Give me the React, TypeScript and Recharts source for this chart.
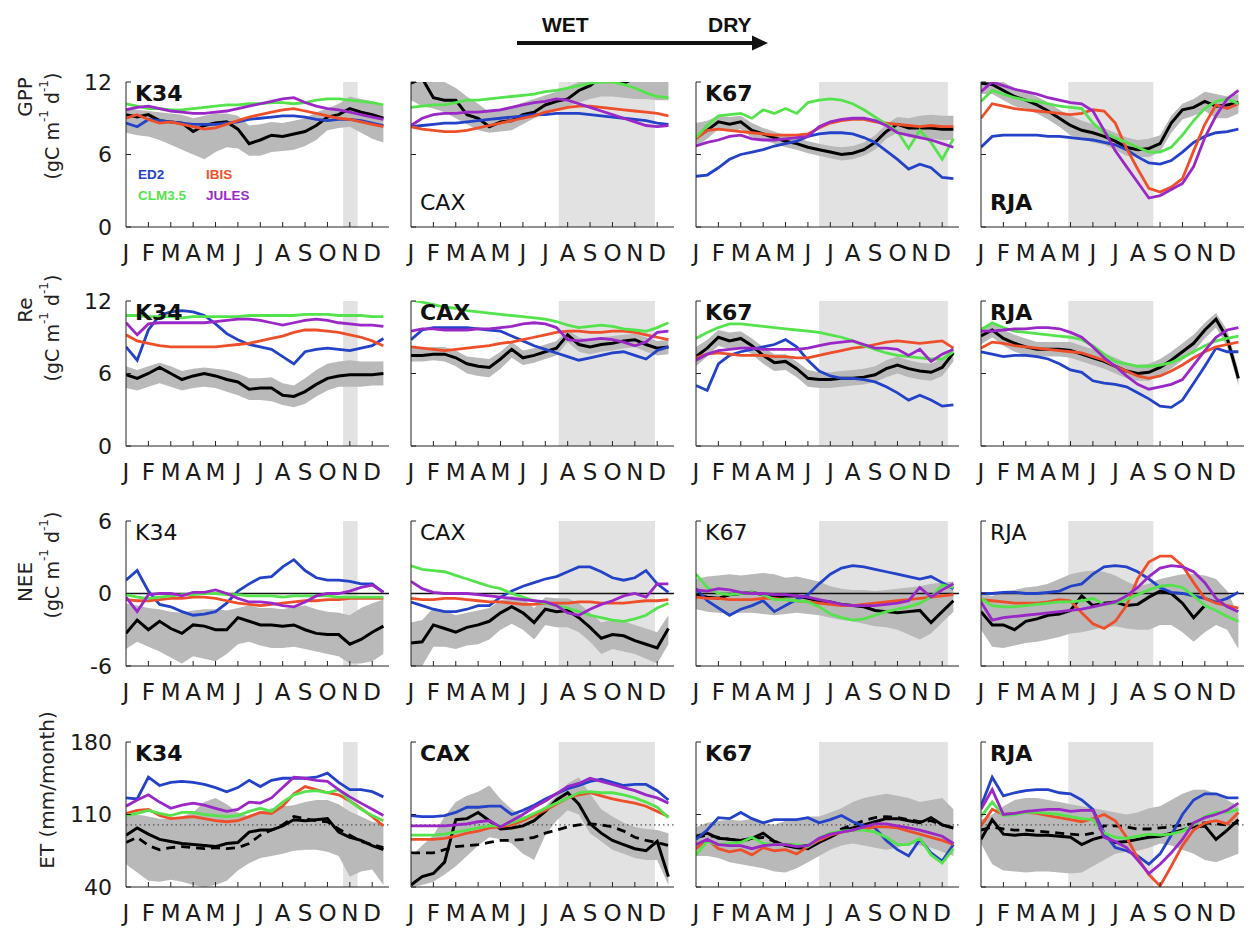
import React from 'react';
import { ComposedChart, Line, Area, XAxis, YAxis, ReferenceArea, ReferenceLine } from 'recharts';

// ---------- axis / category data ----------
const monthPos = [0, 0.5, 1, 1.5, 2, 2.5, 3, 3.5, 4, 4.5, 5, 5.5, 6, 6.5, 7, 7.5, 8, 8.5, 9, 9.5, 10, 10.5, 11, 11.5];
const monthTicks = [0, 1, 2, 3, 4, 5, 6, 7, 8, 9, 10, 11];
const monthLetters = ['J', 'F', 'M', 'A', 'M', 'J', 'J', 'A', 'S', 'O', 'N', 'D'];
const siteNames = ['K34', 'CAX', 'K67', 'RJA'];
const dryStart = [9.7, 6.6, 5.5, 3.9];
const dryEnd = [10.35, 10.9, 11.25, 7.7];
const modelNames = ['ED2', 'IBIS', 'CLM3.5', 'JULES'];

type Series = {
  obs: (number | null)[]; obs2?: number[]; lo: number[]; hi: number[];
  ed2: number[]; ibis: number[]; clm: number[]; jules: number[];
};

// ---------- GPP ----------
const gppK34: Series = {
  obs: [9.3, 9.1, 9.3, 8.8, 8.7, 8.6, 7.9, 8.4, 8.6, 8.7, 8.1, 6.9, 7.2, 7.6, 7.5, 7.7, 7.9, 8.4, 9.1, 9.3, 9.8, 9.5, 9.3, 9.0],
  hi: [9.8, 9.7, 9.6, 9.5, 9.4, 9.3, 9.0, 9.2, 9.4, 9.4, 9.2, 8.4, 8.5, 8.7, 8.6, 8.8, 9.0, 9.5, 9.8, 10.2, 10.8, 10.6, 10.4, 10.0],
  lo: [7.8, 7.6, 7.5, 7.2, 6.8, 6.4, 6.0, 5.6, 6.2, 6.6, 6.5, 5.9, 5.9, 6.2, 6.3, 6.4, 6.7, 7.2, 8.0, 8.2, 8.3, 7.8, 7.3, 7.0],
  ed2: [8.6, 8.3, 8.9, 8.8, 8.7, 8.6, 8.5, 8.5, 8.5, 8.6, 8.7, 8.9, 9.0, 9.1, 9.2, 9.2, 9.1, 8.9, 8.8, 8.9, 8.9, 8.8, 8.6, 8.4],
  ibis: [9.0, 9.3, 8.9, 8.6, 8.7, 8.5, 8.3, 8.1, 8.2, 8.5, 8.8, 9.1, 9.3, 9.5, 9.7, 9.8, 9.6, 9.4, 9.2, 9.0, 8.9, 8.7, 8.5, 8.3],
  clm: [10.2, 10.0, 9.8, 9.8, 9.7, 9.7, 9.8, 9.9, 10.0, 10.1, 10.1, 10.2, 10.2, 10.3, 10.3, 10.2, 10.3, 10.5, 10.6, 10.6, 10.5, 10.4, 10.3, 10.1],
  jules: [9.7, 9.9, 10.0, 9.8, 9.6, 9.5, 9.4, 9.4, 9.5, 9.6, 9.8, 10.0, 10.2, 10.4, 10.6, 10.7, 10.3, 10.0, 9.8, 9.7, 9.5, 9.3, 9.1, 8.9],
};
const gppCAX: Series = {
  obs: [11.9, 12.3, 10.7, 10.5, 10.5, 9.3, 9.0, 8.3, 8.7, 8.8, 9.3, 9.5, 10.1, 10.4, 10.6, 11.3, 11.7, 12.4, 12.1, 11.9, 12.3, 12.4, 12.5, 12.5],
  hi: [12.5, 12.5, 12.3, 12.0, 11.5, 10.8, 10.2, 9.5, 9.8, 10.0, 10.3, 10.6, 10.9, 11.2, 11.6, 12.0, 12.5, 12.5, 12.5, 12.5, 12.5, 12.5, 12.5, 12.5],
  lo: [10.5, 10.0, 9.8, 9.5, 9.0, 8.5, 8.0, 7.8, 7.9, 8.0, 8.5, 9.0, 9.3, 9.7, 10.0, 10.3, 10.6, 10.8, 10.8, 10.7, 10.6, 10.6, 10.5, 10.5],
  ed2: [8.3, 8.4, 8.5, 8.6, 8.6, 8.7, 8.8, 8.9, 9.0, 9.1, 9.2, 9.3, 9.3, 9.4, 9.4, 9.4, 9.3, 9.2, 9.1, 9.0, 8.9, 8.8, 8.6, 8.5],
  ibis: [8.3, 8.1, 8.0, 7.9, 7.9, 8.0, 8.2, 8.4, 8.6, 8.8, 9.0, 9.2, 9.5, 9.7, 9.9, 10.0, 10.0, 9.9, 9.8, 9.7, 9.6, 9.5, 9.4, 9.2],
  clm: [9.9, 10.0, 10.1, 10.1, 10.3, 10.5, 10.5, 10.6, 10.7, 10.8, 10.9, 11.0, 11.2, 11.3, 11.5, 11.7, 11.9, 12.0, 12.0, 11.8, 11.5, 11.1, 10.8, 10.7],
  jules: [8.4, 9.0, 9.3, 9.4, 9.4, 9.5, 9.5, 9.6, 9.7, 9.9, 10.1, 10.3, 10.4, 10.6, 10.5, 10.2, 9.9, 9.6, 9.3, 9.0, 8.7, 8.4, 8.3, 8.4],
};
const gppK67: Series = {
  obs: [7.4, 8.0, 8.7, 8.5, 8.7, 8.0, 7.7, 7.4, 7.1, 6.9, 6.6, 6.4, 6.2, 6.0, 6.1, 6.4, 7.0, 7.9, 8.5, 8.2, 8.2, 8.2, 8.1, 8.1],
  hi: [8.6, 8.8, 9.2, 9.1, 9.2, 8.6, 8.2, 7.9, 7.6, 7.4, 7.1, 6.9, 6.7, 6.6, 6.7, 7.0, 7.6, 8.5, 9.1, 9.0, 9.2, 9.3, 9.2, 9.2],
  lo: [6.6, 7.3, 8.1, 7.9, 8.1, 7.4, 7.2, 6.9, 6.6, 6.4, 6.1, 5.9, 5.7, 5.5, 5.6, 5.9, 6.4, 7.3, 7.8, 7.4, 7.4, 7.3, 7.2, 7.2],
  ed2: [4.2, 4.3, 4.9, 5.6, 6.0, 6.2, 6.4, 6.7, 6.9, 7.1, 7.5, 7.7, 7.8, 7.8, 7.7, 7.4, 7.0, 6.3, 5.6, 4.8, 5.2, 4.9, 4.1, 4.0],
  ibis: [7.3, 8.0, 8.1, 8.0, 7.9, 7.8, 7.7, 7.6, 7.6, 7.6, 7.7, 8.2, 8.6, 8.8, 8.9, 8.9, 8.7, 8.6, 8.5, 8.4, 8.3, 8.4, 8.3, 8.3],
  clm: [7.4, 8.4, 9.2, 9.3, 9.4, 9.0, 9.7, 9.4, 9.8, 9.4, 10.3, 10.5, 10.6, 10.5, 10.2, 9.7, 9.1, 8.5, 7.9, 6.5, 8.0, 7.0, 5.6, 7.3],
  jules: [6.7, 7.0, 7.2, 7.5, 7.6, 7.3, 7.2, 7.2, 7.3, 7.4, 7.5, 8.3, 8.7, 8.9, 9.0, 9.0, 8.8, 8.4, 7.8, 7.6, 7.4, 7.2, 6.9, 6.6],
};
const gppRJA: Series = {
  obs: [11.9, 11.8, 11.3, 10.8, 10.5, 10.1, 9.6, 9.0, 8.4, 8.0, 7.8, 7.5, 7.1, 6.6, 6.4, 6.5, 6.9, 8.6, 9.7, 9.9, 10.4, 10.0, 10.1, 10.3],
  hi: [12.4, 12.2, 12.0, 11.5, 11.2, 10.8, 10.3, 9.7, 9.2, 8.8, 8.5, 8.2, 7.8, 7.4, 7.2, 7.3, 7.6, 9.2, 10.2, 10.6, 11.2, 11.0, 10.8, 11.0],
  lo: [11.0, 11.0, 10.5, 10.0, 9.8, 9.4, 8.9, 8.3, 7.6, 7.3, 7.0, 6.8, 6.4, 5.9, 5.8, 5.8, 6.2, 7.8, 8.9, 9.2, 9.6, 9.0, 9.0, 9.4],
  ed2: [6.6, 7.5, 7.6, 7.6, 7.6, 7.6, 7.5, 7.5, 7.4, 7.3, 7.2, 7.0, 6.8, 6.4, 5.8, 5.3, 5.2, 5.5, 6.2, 7.0, 7.5, 7.8, 7.9, 8.1],
  ibis: [9.0, 10.2, 10.0, 9.8, 9.7, 9.6, 9.5, 9.4, 9.3, 9.4, 9.7, 9.6, 8.6, 6.5, 4.8, 3.2, 2.9, 3.3, 4.0, 6.3, 8.5, 10.1, 9.8, 10.2],
  clm: [10.4, 11.3, 11.0, 10.7, 10.5, 10.4, 10.2, 10.0, 9.9, 9.8, 8.6, 7.8, 7.4, 7.0, 6.6, 6.2, 6.2, 6.6, 7.6, 8.8, 9.8, 10.4, 10.6, 10.2],
  jules: [11.2, 12.0, 11.7, 11.4, 11.2, 11.0, 10.7, 10.5, 10.3, 10.2, 9.6, 8.0, 6.3, 5.0, 3.7, 2.4, 2.6, 3.1, 3.6, 5.0, 7.4, 9.2, 10.6, 11.3],
};

// ---------- Re ----------
const reK34: Series = {
  obs: [5.9, 5.6, 6.0, 6.5, 6.0, 5.5, 5.8, 6.0, 5.8, 5.5, 5.3, 4.7, 4.8, 4.8, 4.2, 4.1, 4.5, 5.1, 5.6, 5.8, 5.9, 5.9, 5.9, 6.0],
  hi: [6.6, 6.3, 6.6, 6.9, 6.6, 6.2, 6.4, 6.5, 6.4, 6.3, 6.0, 5.6, 5.6, 5.7, 5.2, 5.0, 5.6, 6.3, 6.8, 7.0, 7.1, 7.0, 7.0, 7.0],
  lo: [4.8, 4.6, 4.9, 5.2, 4.9, 4.6, 4.8, 4.9, 4.8, 4.5, 4.2, 3.8, 3.8, 3.7, 3.4, 3.2, 3.5, 4.1, 4.6, 4.9, 4.9, 4.9, 5.0, 5.0],
  ed2: [8.2, 7.1, 9.6, 10.8, 11.1, 11.2, 11.1, 10.8, 10.1, 9.3, 8.8, 8.4, 8.2, 8.0, 7.4, 6.8, 7.8, 8.0, 8.1, 8.0, 7.9, 8.1, 8.3, 8.9],
  ibis: [9.2, 8.7, 8.5, 8.3, 8.2, 8.2, 8.2, 8.2, 8.2, 8.3, 8.4, 8.5, 8.7, 8.9, 9.1, 9.4, 9.6, 9.6, 9.5, 9.4, 9.2, 9.0, 8.7, 8.3],
  clm: [10.8, 10.8, 10.7, 10.7, 10.7, 10.6, 10.7, 10.7, 10.7, 10.7, 10.7, 10.8, 10.8, 10.8, 10.8, 10.8, 10.9, 10.9, 10.9, 10.8, 10.8, 10.8, 10.7, 10.7],
  jules: [10.2, 9.2, 10.1, 10.2, 10.2, 10.2, 10.2, 10.2, 10.3, 10.4, 10.5, 10.5, 10.4, 10.2, 10.0, 10.2, 10.4, 10.5, 10.4, 10.2, 10.1, 10.0, 10.0, 9.9],
};
const reCAX: Series = {
  obs: [7.5, 7.5, 7.6, 7.6, 7.3, 6.8, 6.6, 6.5, 7.2, 8.0, 7.3, 7.5, 7.8, 8.1, 9.2, 8.4, 8.2, 8.4, 8.5, 8.7, 8.8, 8.4, 8.1, 8.2],
  hi: [8.1, 8.1, 8.2, 8.2, 7.9, 7.4, 7.3, 7.2, 7.8, 8.6, 7.9, 8.1, 8.4, 8.7, 9.6, 9.0, 8.8, 9.0, 9.1, 9.2, 9.3, 9.0, 8.7, 8.8],
  lo: [7.0, 7.0, 7.1, 7.0, 6.6, 6.0, 5.8, 5.7, 6.4, 7.3, 6.7, 6.9, 7.2, 7.5, 8.6, 7.8, 7.6, 7.8, 7.9, 8.1, 8.2, 7.8, 7.5, 7.6],
  ed2: [8.8, 9.6, 9.8, 9.8, 9.8, 9.8, 9.7, 9.6, 9.5, 9.1, 8.7, 8.3, 8.0, 7.7, 7.4, 7.1, 7.3, 7.5, 7.7, 7.8, 7.5, 7.2, 7.9, 8.2],
  ibis: [8.2, 8.1, 8.0, 7.9, 8.0, 8.1, 8.2, 8.3, 8.5, 8.6, 8.8, 9.0, 9.2, 9.4, 9.5, 9.5, 9.4, 9.4, 9.5, 9.5, 9.4, 9.2, 9.0, 8.8],
  clm: [12.1, 11.9, 11.7, 11.5, 11.4, 11.2, 11.1, 11.0, 10.9, 10.8, 10.7, 10.6, 10.5, 10.3, 10.0, 9.8, 9.9, 10.0, 9.9, 9.7, 9.6, 9.5, 9.8, 10.2],
  jules: [9.5, 9.7, 9.7, 9.6, 9.6, 9.6, 9.7, 9.7, 9.8, 9.9, 10.1, 10.2, 10.1, 9.8, 8.8, 8.7, 8.8, 8.9, 8.8, 8.6, 8.3, 8.6, 9.4, 9.5],
};
const reK67: Series = {
  obs: [7.4, 8.1, 9.0, 8.7, 8.9, 8.3, 7.5, 6.9, 7.0, 6.4, 5.6, 5.5, 5.5, 5.6, 5.6, 5.7, 5.9, 6.4, 6.7, 6.4, 6.2, 6.1, 6.5, 7.7],
  hi: [8.2, 8.8, 9.6, 9.4, 9.5, 8.9, 8.2, 7.6, 7.6, 7.0, 6.3, 6.1, 6.1, 6.2, 6.3, 6.4, 6.6, 7.1, 7.4, 7.1, 6.9, 6.8, 7.2, 8.3],
  lo: [6.6, 7.4, 8.3, 8.0, 8.2, 7.6, 6.8, 6.2, 6.3, 5.7, 4.9, 4.8, 4.8, 4.9, 5.0, 5.1, 5.3, 5.7, 6.0, 5.7, 5.5, 5.4, 5.8, 7.0],
  ed2: [5.0, 4.6, 6.8, 7.5, 7.8, 8.0, 8.2, 8.4, 8.8, 8.2, 7.1, 6.2, 5.8, 5.6, 5.6, 5.5, 5.3, 4.9, 4.4, 3.8, 4.2, 3.8, 3.3, 3.4],
  ibis: [7.3, 7.6, 7.7, 7.6, 7.5, 7.5, 7.5, 7.4, 7.4, 7.3, 7.3, 7.5, 7.7, 7.9, 8.1, 8.2, 8.4, 8.6, 8.7, 8.6, 8.5, 8.6, 8.7, 8.1],
  clm: [8.9, 9.4, 9.8, 10.1, 10.1, 10.0, 9.9, 9.8, 9.7, 9.6, 9.5, 9.4, 9.2, 9.0, 8.7, 8.3, 8.0, 7.7, 7.5, 7.4, 7.3, 7.2, 7.2, 7.8],
  jules: [7.1, 7.6, 7.9, 8.0, 8.1, 8.1, 8.0, 8.0, 8.0, 8.0, 8.1, 8.3, 8.5, 8.6, 8.7, 8.4, 8.1, 8.1, 8.0, 7.5, 8.0, 7.0, 7.6, 8.0],
};
const reRJA: Series = {
  obs: [9.1, 9.6, 8.9, 8.5, 8.2, 8.0, 8.0, 8.0, 7.9, 7.6, 7.3, 7.0, 6.6, 6.2, 6.0, 6.1, 6.5, 7.1, 7.8, 8.5, 9.6, 10.5, 8.9, 5.6],
  hi: [9.8, 10.2, 9.6, 9.2, 8.9, 8.6, 8.6, 8.6, 8.6, 8.3, 8.0, 7.7, 7.3, 6.9, 6.7, 6.8, 7.2, 7.8, 8.5, 9.2, 10.2, 11.0, 9.6, 6.3],
  lo: [8.4, 9.0, 8.3, 7.8, 7.5, 7.4, 7.4, 7.4, 7.3, 7.0, 6.7, 6.4, 6.0, 5.6, 5.4, 5.4, 5.8, 6.4, 7.1, 7.8, 8.9, 9.8, 8.2, 5.0],
  ed2: [7.8, 7.6, 7.4, 7.5, 7.5, 7.4, 7.2, 6.8, 6.3, 6.1, 5.4, 5.2, 5.1, 4.9, 4.4, 3.9, 3.3, 3.2, 3.8, 5.2, 6.6, 8.1, 7.8, 7.8],
  ibis: [8.1, 8.6, 8.5, 8.3, 8.2, 8.1, 8.0, 7.9, 7.8, 7.7, 7.4, 7.1, 6.6, 6.2, 5.8, 5.6, 5.8, 6.2, 6.7, 7.3, 7.8, 8.2, 8.4, 8.6],
  clm: [9.6, 10.2, 9.8, 9.5, 9.4, 9.3, 9.2, 9.1, 9.0, 8.8, 8.3, 7.6, 7.0, 6.8, 6.6, 6.6, 6.7, 6.9, 7.3, 7.8, 8.3, 8.7, 8.9, 9.1],
  jules: [9.5, 9.5, 9.6, 9.7, 9.7, 9.8, 9.8, 9.7, 9.4, 9.0, 8.2, 7.3, 6.6, 5.8, 5.1, 4.7, 4.9, 5.1, 5.5, 6.7, 7.9, 9.0, 9.6, 9.8],
};

// ---------- NEE ----------
const neeK34: Series = {
  obs: [-3.3, -2.2, -3.0, -2.3, -2.9, -3.3, -2.6, -2.7, -3.0, -3.0, -2.0, -2.3, -2.6, -2.6, -2.7, -2.6, -3.0, -3.3, -3.4, -3.4, -4.2, -3.8, -3.2, -2.7],
  hi: [-0.8, -1.0, -1.2, -1.3, -1.5, -1.6, -1.4, -1.3, -1.3, -1.4, -1.2, -1.0, -1.2, -1.2, -1.3, -1.1, -1.0, -1.3, -1.5, -1.6, -1.8, -1.2, -0.8, -0.5],
  lo: [-4.6, -4.0, -4.4, -4.8, -5.3, -5.8, -5.2, -5.4, -5.6, -5.0, -4.2, -4.0, -4.3, -4.5, -4.5, -4.4, -4.6, -4.8, -5.0, -5.2, -5.8, -5.8, -5.6, -5.0],
  ed2: [1.1, 1.9, 0.2, -0.9, -1.1, -1.5, -1.8, -1.7, -1.5, -0.8, 0.2, 0.8, 1.3, 1.4, 2.2, 2.8, 1.9, 1.3, 1.1, 1.1, 1.0, 0.8, 0.8, 0.1],
  ibis: [-0.5, -0.6, -0.6, -0.5, -0.4, -0.4, -0.3, -0.3, -0.4, -0.6, -0.8, -0.9, -1.0, -0.9, -0.8, -0.7, -0.6, -0.6, -0.5, -0.5, -0.4, -0.4, -0.4, -0.4],
  clm: [-0.1, -0.3, -0.4, -0.3, -0.2, -0.1, -0.1, 0.0, 0.0, -0.1, -0.1, -0.2, -0.2, -0.2, -0.3, -0.2, -0.2, -0.2, -0.2, -0.3, -0.3, -0.3, -0.3, -0.3],
  jules: [-0.3, -1.5, -0.1, 0.0, 0.0, -0.2, 0.1, 0.1, 0.3, 0.0, -0.4, -0.7, -0.7, -0.8, -1.0, -1.1, -0.7, -0.2, 0.0, 0.0, 0.2, 0.5, 0.7, 0.1],
};
const neeCAX: Series = {
  obs: [-4.1, -4.0, -2.6, -2.9, -3.2, -2.8, -2.6, -2.3, -1.6, -1.1, -1.6, -2.4, -1.3, -1.5, -1.4, -2.0, -2.8, -3.7, -3.4, -3.5, -3.9, -4.2, -4.5, -2.9],
  hi: [-2.4, -2.2, -1.2, -1.4, -1.8, -1.6, -1.4, -1.2, -0.6, -0.2, -0.4, -1.2, -0.3, -0.4, -0.4, -0.8, -1.6, -2.4, -2.2, -2.3, -2.6, -2.9, -3.2, -1.8],
  lo: [-6.0, -6.0, -4.4, -4.4, -4.6, -4.3, -4.2, -3.8, -3.0, -2.5, -3.0, -3.8, -2.6, -2.8, -2.8, -3.2, -4.0, -5.0, -4.6, -4.8, -5.0, -5.4, -5.8, -4.2],
  ed2: [-0.7, -1.0, -1.3, -1.5, -1.5, -1.3, -1.0, -1.0, -0.3, 0.2, 0.6, 0.9, 1.2, 1.4, 1.8, 2.2, 2.2, 1.8, 1.3, 1.1, 1.3, 1.9, 0.8, 0.1],
  ibis: [-0.4, -0.5, -0.5, -0.4, -0.4, -0.5, -0.6, -0.7, -0.7, -0.8, -0.9, -0.9, -0.8, -0.8, -0.8, -0.7, -0.7, -0.8, -0.8, -0.8, -0.7, -0.6, -0.6, -0.5],
  clm: [2.3, 2.0, 1.9, 1.8, 1.5, 1.2, 0.9, 0.6, 0.4, 0.0, -0.3, -0.6, -0.8, -1.0, -1.2, -1.5, -1.8, -2.0, -2.2, -2.3, -2.1, -1.8, -1.2, -0.8],
  jules: [1.0, 0.4, 0.1, 0.0, 0.0, 0.0, -0.1, -0.2, -0.3, -0.4, -0.5, -0.6, -0.7, -1.0, -1.6, -1.8, -1.3, -0.9, -0.6, -0.2, 0.0, -0.3, 0.8, 0.8],
};
const neeK67: Series = {
  obs: [-0.1, -0.3, -0.4, -0.1, 0.0, 0.1, -0.1, -0.3, -0.2, -0.2, -0.4, -0.6, -0.7, -0.9, -1.0, -1.1, -1.4, -1.5, -1.6, -1.5, -1.4, -2.4, -1.5, -0.6],
  hi: [1.2, 1.4, 1.5, 1.6, 1.5, 1.6, 1.7, 1.6, 1.3, 1.4, 1.2, 1.0, 0.6, 0.4, 0.3, 0.3, 0.2, 0.3, 0.4, 0.5, 0.6, 0.8, 0.9, 1.0],
  lo: [-1.3, -1.5, -1.6, -1.7, -1.6, -1.6, -1.7, -1.8, -1.7, -1.6, -1.7, -1.8, -2.0, -2.2, -2.3, -2.5, -2.7, -2.8, -3.0, -3.4, -3.8, -3.3, -2.4, -1.5],
  ed2: [0.4, -0.6, -1.2, -1.8, -1.3, -1.0, -0.6, -1.5, -1.0, -0.5, -0.1, 0.8, 1.6, 2.1, 2.3, 2.2, 2.0, 1.8, 1.6, 1.4, 1.2, 1.4, 0.9, 0.4],
  ibis: [-0.3, -0.4, -0.4, -0.5, -0.5, -0.5, -0.4, -0.4, -0.5, -0.6, -0.7, -0.8, -0.9, -1.0, -1.0, -0.9, -0.8, -0.7, -0.6, -0.5, -0.4, -0.3, -0.2, -0.1],
  clm: [1.6, 0.5, 0.0, -0.1, 0.0, 0.1, -0.1, -0.5, -0.5, -0.6, -0.7, -1.1, -1.7, -2.0, -2.2, -2.1, -1.8, -1.5, -1.3, -1.1, -0.8, -0.3, 0.7, 0.5],
  jules: [0.3, 0.2, 0.4, 0.3, 0.1, 0.0, 0.0, -0.1, -0.1, -0.2, -0.3, -0.5, -0.7, -0.9, -1.0, -1.0, -1.0, -0.9, -0.8, -0.6, 0.5, -0.3, 0.3, 0.8],
};
const neeRJA: Series = {
  obs: [-1.5, -2.6, -2.6, -3.0, -2.3, -2.1, -1.8, -1.7, -1.4, -0.2, -1.0, -0.8, -0.7, -1.0, -0.9, -0.3, 0.2, 0.0, -0.8, -2.0, -1.0, null, null, null],
  hi: [0.0, -0.2, 0.2, 0.3, 0.5, 0.6, 0.8, 1.2, 1.6, 1.8, 1.9, 1.8, 1.5, 1.0, 0.6, 0.8, 1.2, 1.4, 1.6, 1.6, 1.5, 1.2, 0.2, -1.8],
  lo: [-3.0, -4.4, -4.5, -4.3, -4.1, -4.0, -3.8, -3.6, -3.3, -3.2, -3.0, -2.8, -2.7, -2.9, -3.0, -3.0, -2.6, -2.6, -3.2, -4.0, -3.2, -2.6, -3.0, -4.6],
  ed2: [0.0, 0.0, 0.1, 0.1, 0.0, 0.0, 0.1, 0.2, 0.6, 0.8, 1.6, 2.2, 2.3, 2.2, 1.8, 1.2, 0.5, 0.1, 0.0, -0.2, -0.4, -0.7, -0.4, 0.1],
  ibis: [-0.5, -0.6, -0.7, -0.8, -0.8, -0.8, -0.7, -0.5, -0.6, -1.6, -2.5, -2.9, -2.3, -1.0, 1.2, 2.6, 3.1, 3.1, 2.3, 0.9, -0.4, -0.8, -1.0, -1.2],
  clm: [-0.4, -1.0, -1.1, -1.1, -1.0, -0.9, -0.8, -0.7, -0.7, -0.6, -0.4, -0.9, -0.8, -0.5, -0.1, 0.3, 0.6, 0.7, 0.5, -0.2, -1.0, -1.4, -1.9, -2.3],
  jules: [-0.7, -2.2, -2.0, -1.9, -1.8, -1.7, -1.6, -1.5, -1.4, -1.3, -1.1, -0.9, -0.7, -0.2, 0.5, 1.4, 2.1, 2.3, 2.2, 1.8, 0.9, -0.4, -1.1, -1.5],
};

// ---------- ET ----------
const etK34: Series = {
  obs: [90, 97, 91, 86, 84, 82, 81, 80, 79, 82, 83, 93, 95, 95, 99, 105, 104, 105, 106, 93, 88, 85, 80, 76],
  obs2: [83, 88, 80, 76, 78, 79, 78, 77, 78, 77, 78, 82, 90, 95, 100, 108, 106, 104, 103, 96, 90, 84, 81, 78],
  hi: [112, 110, 108, 106, 106, 108, 112, 122, 126, 120, 112, 108, 112, 116, 118, 119, 122, 124, 124, 120, 113, 108, 103, 101],
  lo: [62, 54, 46, 45, 47, 45, 42, 40, 42, 46, 56, 63, 68, 70, 72, 75, 76, 76, 74, 70, 50, 55, 57, 42],
  ed2: [126, 125, 146, 138, 141, 142, 141, 139, 136, 132, 136, 143, 137, 143, 145, 145, 145, 146, 150, 141, 134, 134, 132, 127],
  ibis: [111, 114, 115, 109, 106, 107, 108, 106, 104, 103, 104, 108, 112, 111, 118, 130, 137, 134, 131, 129, 123, 116, 108, 99],
  clm: [109, 111, 114, 111, 109, 112, 112, 110, 109, 108, 109, 113, 116, 113, 122, 129, 132, 133, 131, 134, 123, 115, 109, 104],
  jules: [118, 124, 129, 122, 116, 119, 121, 119, 116, 113, 115, 122, 121, 126, 136, 146, 145, 143, 142, 134, 127, 121, 115, 109],
};
const etCAX: Series = {
  obs: [42, 50, 53, 64, 105, 106, 112, 104, 96, 97, 99, 104, 113, 124, 131, 120, 101, 92, 85, 81, 77, 75, 84, 50],
  obs2: [73, 73, 73, 76, 79, 80, 81, 83, 85, 85, 86, 88, 92, 95, 98, 100, 101, 100, 98, 94, 88, 85, 83, 80],
  hi: [70, 80, 90, 108, 122, 128, 132, 138, 125, 115, 108, 110, 118, 128, 140, 146, 130, 115, 108, 102, 98, 96, 95, 92],
  lo: [40, 42, 45, 52, 60, 70, 80, 88, 86, 82, 72, 66, 90, 104, 114, 110, 92, 84, 76, 72, 68, 66, 66, 42],
  ed2: [109, 108, 108, 109, 112, 117, 117, 118, 118, 110, 114, 119, 125, 130, 135, 138, 142, 144, 141, 138, 139, 139, 133, 124],
  ibis: [86, 86, 86, 87, 89, 92, 94, 97, 98, 100, 104, 109, 114, 120, 126, 129, 131, 128, 125, 123, 121, 118, 113, 108],
  clm: [90, 90, 90, 91, 93, 95, 97, 99, 99, 102, 106, 111, 116, 121, 126, 131, 132, 131, 131, 129, 126, 122, 117, 107],
  jules: [99, 99, 99, 99, 100, 101, 103, 104, 98, 104, 110, 117, 123, 130, 137, 140, 145, 142, 139, 136, 133, 129, 126, 121],
};
const etK67: Series = {
  obs: [89, 92, 87, 86, 85, 87, 92, 84, 80, 78, 77, 83, 88, 94, 97, 100, 103, 106, 106, 104, 102, 107, 100, 97],
  obs2: [88, 90, 88, 86, 85, 86, 88, 84, 81, 80, 80, 85, 90, 96, 100, 104, 107, 108, 107, 105, 103, 104, 100, 97],
  hi: [98, 102, 104, 105, 104, 106, 102, 100, 104, 106, 108, 108, 112, 116, 122, 126, 128, 130, 128, 126, 122, 124, 126, 115],
  lo: [70, 70, 68, 64, 62, 60, 58, 55, 54, 58, 64, 70, 76, 80, 82, 80, 78, 76, 78, 82, 80, 78, 74, 70],
  ed2: [86, 95, 107, 106, 112, 106, 102, 105, 105, 105, 107, 102, 105, 109, 103, 99, 97, 85, 76, 70, 86, 73, 65, 81],
  ibis: [77, 86, 77, 74, 76, 71, 78, 75, 76, 72, 79, 85, 90, 93, 95, 96, 98, 98, 97, 94, 91, 88, 85, 81],
  clm: [71, 84, 81, 82, 83, 88, 82, 81, 81, 81, 79, 87, 92, 94, 95, 95, 93, 88, 81, 81, 87, 71, 63, 77],
  jules: [81, 86, 81, 80, 80, 77, 80, 81, 81, 79, 80, 87, 91, 93, 95, 98, 101, 101, 99, 97, 95, 92, 89, 82],
};
const etRJA: Series = {
  obs: [86, 105, 91, 90, 91, 90, 90, 89, 88, 81, 86, 89, 83, 84, 86, 88, 89, 92, 95, 98, 99, 86, 95, 105],
  obs2: [95, 98, 96, 95, 95, 94, 93, 92, 91, 90, 92, 99, 99, 98, 96, 96, 97, 98, 100, 101, 102, 101, 100, 102],
  hi: [105, 110, 118, 124, 126, 126, 124, 122, 120, 118, 116, 114, 112, 110, 112, 116, 118, 124, 130, 134, 134, 130, 124, 118],
  lo: [82, 62, 56, 55, 54, 55, 55, 54, 53, 54, 60, 66, 72, 74, 75, 78, 82, 80, 76, 72, 66, 64, 68, 72],
  ed2: [118, 146, 128, 131, 133, 134, 134, 131, 130, 124, 115, 92, 78, 75, 70, 62, 72, 90, 110, 124, 130, 130, 126, 126],
  ibis: [99, 115, 110, 111, 112, 111, 109, 107, 105, 103, 106, 110, 104, 88, 68, 52, 41, 60, 80, 95, 102, 104, 101, 112],
  clm: [108, 122, 109, 110, 112, 112, 111, 110, 108, 106, 105, 92, 88, 87, 89, 91, 90, 91, 94, 100, 108, 112, 112, 115],
  jules: [115, 134, 110, 111, 113, 114, 115, 115, 113, 114, 114, 88, 84, 78, 66, 53, 62, 73, 86, 102, 107, 110, 114, 121],
};

// ---------- row settings ----------
const gppTicks = [0, 6, 12];
const reTicks = [0, 6, 12];
const neeTicks = [-6, 0, 6];
const etTicks = [40, 110, 180];

type RowCfg = {
  panels: Series[]; domain: [number, number]; ticks: number[];
  zero?: boolean; dotted?: number;
  titles: { pos: 'top' | 'bottom'; bold: boolean }[];
};

const rows: RowCfg[] = [
  { panels: [gppK34, gppCAX, gppK67, gppRJA], domain: [0, 12], ticks: gppTicks,
    titles: [{ pos: 'top', bold: true }, { pos: 'bottom', bold: false }, { pos: 'top', bold: true }, { pos: 'bottom', bold: true }] },
  { panels: [reK34, reCAX, reK67, reRJA], domain: [0, 12], ticks: reTicks,
    titles: [{ pos: 'top', bold: true }, { pos: 'top', bold: true }, { pos: 'top', bold: true }, { pos: 'top', bold: true }] },
  { panels: [neeK34, neeCAX, neeK67, neeRJA], domain: [-6, 6], ticks: neeTicks, zero: true,
    titles: [{ pos: 'top', bold: false }, { pos: 'top', bold: false }, { pos: 'top', bold: false }, { pos: 'top', bold: false }] },
  { panels: [etK34, etCAX, etK67, etRJA], domain: [40, 180], ticks: etTicks, dotted: 100,
    titles: [{ pos: 'top', bold: true }, { pos: 'top', bold: true }, { pos: 'top', bold: true }, { pos: 'top', bold: true }] },
];

// ---------- layout ----------
const rowTops = [82, 301, 521, 742];
const colLefts = [126, 411, 696, 981];
const PW = 263;
const PH = 145;
const ML = 62;
const MT = 18;
const XH = 45;

const C = { ed2: '#2342c8', ibis: '#ee4f2b', clm: '#55e34d', jules: '#9a28c6', obs: '#000000' };
const FONT = '"DejaVu Sans", sans-serif';

const XTick = (props: any) => {
  const { x, y, payload } = props;
  const v = payload.value as number;
  return (
    <g>
      {v > 0 && <line x1={x} x2={x} y1={y} y2={y - 5} stroke="#222" strokeWidth={1} />}
      <text x={x} y={y + 26} textAnchor="middle" dominantBaseline="central" fontFamily={FONT} fontSize={23} fill="#1a1a1a">
        {monthLetters[v]}
      </text>
    </g>
  );
};

const makeYTick = (showLabel: boolean) => (props: any) => {
  const { x, y, payload } = props;
  return (
    <g>
      <line x1={x} x2={x + 5} y1={y} y2={y} stroke="#222" strokeWidth={1} />
      {showLabel && (
        <text x={x - 14} y={y} textAnchor="end" dominantBaseline="central" fontFamily={FONT} fontSize={22} fill="#1a1a1a">
          {String(payload.value)}
        </text>
      )}
    </g>
  );
};

function buildRows(s: Series) {
  return monthPos.map((m, i) => ({
    m,
    obs: s.obs[i],
    obs2: s.obs2 ? s.obs2[i] : null,
    band: [s.lo[i], s.hi[i]],
    ed2: s.ed2[i],
    ibis: s.ibis[i],
    clm: s.clm[i],
    jules: s.jules[i],
  }));
}

function Panel({ cfg, row, col }: { cfg: RowCfg; row: number; col: number }) {
  const s = cfg.panels[col];
  const data = buildRows(s);
  return (
    <div style={{ position: 'absolute', left: colLefts[col] - ML, top: rowTops[row] - MT }}>
      <ComposedChart width={ML + PW + 10} height={MT + PH + XH} data={data} margin={{ top: MT, right: 10, bottom: 0, left: 0 }}>
        <XAxis dataKey="m" type="number" domain={[0, 11.75]} ticks={monthTicks} interval={0}
          tickSize={0} tickMargin={0} tickLine={false} tick={XTick} height={XH}
          axisLine={{ stroke: '#222', strokeWidth: 1 }} allowDataOverflow />
        <YAxis type="number" domain={cfg.domain} ticks={cfg.ticks} interval={0} width={ML}
          tickSize={0} tickMargin={0} tickLine={false} tick={makeYTick(col === 0)}
          axisLine={{ stroke: '#222', strokeWidth: 1 }} allowDataOverflow />
        <ReferenceArea x1={dryStart[col]} x2={dryEnd[col]} y1={cfg.domain[0]} y2={cfg.domain[1]}
          fill="#e2e2e2" fillOpacity={1} stroke="none" />
        <Area dataKey="band" type="linear" stroke="none" fill="#b9b9b9" fillOpacity={1} isAnimationActive={false} dot={false} activeDot={false} />
        {cfg.zero && <ReferenceLine y={0} stroke="#111" strokeWidth={1.3} />}
        {cfg.dotted !== undefined && <ReferenceLine y={cfg.dotted} stroke="#555" strokeWidth={1.3} strokeDasharray="1.5 3" />}
        <Line dataKey="obs" type="linear" stroke={C.obs} strokeWidth={3} dot={false} activeDot={false} isAnimationActive={false} />
        {s.obs2 && <Line dataKey="obs2" type="linear" stroke={C.obs} strokeWidth={2.8} strokeDasharray="9 6" dot={false} activeDot={false} isAnimationActive={false} />}
        <Line dataKey="ed2" type="linear" stroke={C.ed2} strokeWidth={2.8} dot={false} activeDot={false} isAnimationActive={false} />
        <Line dataKey="ibis" type="linear" stroke={C.ibis} strokeWidth={2.8} dot={false} activeDot={false} isAnimationActive={false} />
        <Line dataKey="clm" type="linear" stroke={C.clm} strokeWidth={2.8} dot={false} activeDot={false} isAnimationActive={false} />
        <Line dataKey="jules" type="linear" stroke={C.jules} strokeWidth={2.8} dot={false} activeDot={false} isAnimationActive={false} />
      </ComposedChart>
    </div>
  );
}

function Unit({ x, y }: { x: number; y: number }) {
  return (
    <text transform={`translate(${x},${y}) rotate(-90)`} textAnchor="middle" dominantBaseline="central"
      fontFamily={FONT} fontSize={19} fill="#222">
      <tspan>(gC m</tspan>
      <tspan fontSize={12} dy={-8}>-1</tspan>
      <tspan dy={8}> d</tspan>
      <tspan fontSize={12} dy={-8}>-1</tspan>
      <tspan dy={8}>)</tspan>
    </text>
  );
}

function Overlay() {
  const legendColors = [C.ed2, C.ibis, C.clm, C.jules];
  const legendPos = [[138, 174], [206, 174], [138, 195], [206, 195]];
  return (
    <svg width={1255} height={930} style={{ position: 'absolute', left: 0, top: 0, pointerEvents: 'none' }}>
      {/* wet -> dry arrow */}
      <text x={542} y={32} fontFamily='"Liberation Sans", Arial, sans-serif' fontWeight="bold" fontSize={21} fill="#111">WET</text>
      <text x={708} y={32} fontFamily='"Liberation Sans", Arial, sans-serif' fontWeight="bold" fontSize={21} fill="#111">DRY</text>
      <line x1={517} y1={43} x2={754} y2={43} stroke="#111" strokeWidth={4} />
      <polygon points="752,35.5 768,43 752,50.5" fill="#111" />

      {/* row labels */}
      <text transform="translate(25,97) rotate(-90)" textAnchor="middle" dominantBaseline="central" fontFamily={FONT} fontSize={20} fill="#222">GPP</text>
      <Unit x={52} y={126} />
      <text transform="translate(25,310) rotate(-90)" textAnchor="middle" dominantBaseline="central" fontFamily={FONT} fontSize={20} fill="#222">Re</text>
      <Unit x={52} y={328} />
      <text transform="translate(25,582) rotate(-90)" textAnchor="middle" dominantBaseline="central" fontFamily={FONT} fontSize={20} fill="#222">NEE</text>
      <Unit x={52} y={565} />
      <text transform="translate(47,790) rotate(-90)" textAnchor="middle" dominantBaseline="central" fontFamily={FONT} fontSize={20} fill="#222">ET (mm/month)</text>

      {/* panel titles */}
      {rows.map((r, ri) =>
        r.titles.map((t, ci) => (
          <text key={`t${ri}-${ci}`} x={colLefts[ci] + 9} y={t.pos === 'top' ? rowTops[ri] + 19 : rowTops[ri] + PH - 17}
            fontFamily={FONT} fontWeight={t.bold ? 'bold' : 'normal'} fontSize={22} fill="#111">
            {siteNames[ci]}
          </text>
        ))
      )}

      {/* legend */}
      {modelNames.map((n, i) => (
        <text key={n} x={legendPos[i][0]} y={legendPos[i][1]} dominantBaseline="central"
          fontFamily='"Liberation Sans", Arial, sans-serif' fontWeight="bold" fontSize={13.5} fill={legendColors[i]}>
          {n}
        </text>
      ))}
    </svg>
  );
}

export default function App() {
  return (
    <div style={{ position: 'absolute', left: 0, top: 0, width: 1255, height: 930, background: '#fff', overflow: 'hidden' }}>
      {rows.map((r, ri) => [0, 1, 2, 3].map((ci) => <Panel key={`${ri}-${ci}`} cfg={r} row={ri} col={ci} />))}
      <Overlay />
    </div>
  );
}
